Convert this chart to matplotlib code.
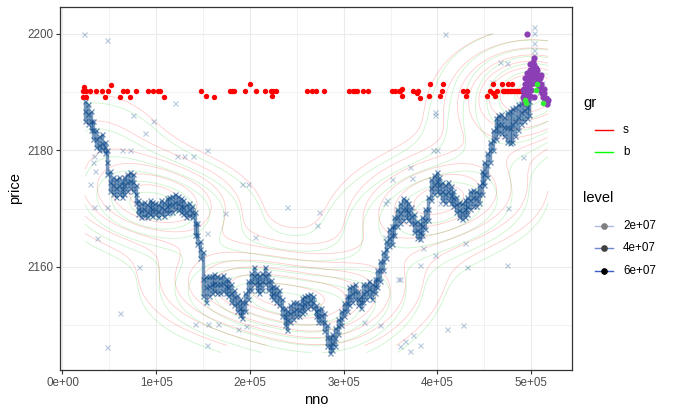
import matplotlib
matplotlib.use('Agg')  # no display
import matplotlib.pyplot as plt
import numpy as np
from matplotlib.lines import Line2D
from matplotlib.ticker import FixedLocator, MaxNLocator

plt.rcParams['font.family'] = ['Liberation Sans', 'DejaVu Sans']

# ---- data (nno in thousands) ----
# main trade path: column position and low / middle / high price of the band
path_k = [24, 27, 30, 33, 36, 39, 42, 45, 48, 51, 54, 57, 60, 63, 66, 69, 72, 75, 78, 81,
          84, 87, 90, 93, 96, 99, 102, 105, 108, 111, 114, 117, 120, 123, 126, 129, 132, 135, 138, 141,
          144, 147, 150, 153, 156, 159, 162, 165, 168, 171, 174, 177, 180, 183, 186, 189, 192, 195, 198, 201,
          204, 207, 210, 213, 216, 219, 222, 225, 228, 231, 234, 237, 240, 243, 246, 249, 252, 255, 258, 261,
          264, 267, 270, 273, 276, 279, 282, 285, 288, 291, 294, 297, 300, 303, 306, 309, 312, 315, 318, 321,
          324, 327, 330, 333, 336, 339, 342, 345, 348, 351, 354, 357, 360, 363, 366, 369, 372, 375, 378, 381,
          384, 387, 390, 393, 396, 399, 402, 405, 408, 411, 414, 417, 420, 423, 426, 429, 432, 435, 438, 441,
          444, 447, 450, 453, 456, 459, 462, 465, 468, 471, 474, 477, 480, 483, 486, 489, 492, 495, 498]
path_lo = [2185.0, 2184.5, 2183.5, 2182.0, 2180.5, 2180.0, 2180.2, 2179.5, 2176.0, 2173.0,
           2172.5, 2172.0, 2172.5, 2172.0, 2172.5, 2173.0, 2173.5, 2173.0, 2171.0, 2169.0,
           2168.5, 2168.8, 2168.5, 2169.0, 2168.8, 2169.0, 2168.5, 2169.0, 2168.8, 2169.2,
           2169.5, 2169.5, 2170.0, 2169.8, 2169.5, 2169.0, 2168.5, 2168.8, 2168.5, 2165.5,
           2164.0, 2161.5, 2155.0, 2154.0, 2155.0, 2155.5, 2155.8, 2155.5, 2155.5, 2155.8,
           2155.5, 2155.0, 2154.0, 2153.5, 2152.5, 2151.8, 2151.2, 2152.5, 2154.5, 2156.0,
           2157.0, 2156.0, 2155.5, 2156.0, 2157.0, 2156.0, 2155.0, 2154.5, 2154.0, 2153.5,
           2151.5, 2150.0, 2149.2, 2150.5, 2151.0, 2151.5, 2151.5, 2152.0, 2152.5, 2153.0,
           2153.2, 2153.0, 2151.5, 2150.5, 2150.5, 2149.0, 2146.5, 2145.3, 2145.8, 2146.5,
           2148.5, 2150.0, 2151.5, 2152.5, 2153.5, 2154.0, 2154.5, 2153.5, 2153.0, 2154.0,
           2154.5, 2155.0, 2154.5, 2155.5, 2156.5, 2157.5, 2159.5, 2161.5, 2163.5, 2164.0,
           2165.5, 2167.0, 2167.5, 2168.0, 2168.5, 2168.0, 2167.5, 2166.0, 2165.0, 2164.8,
           2165.5, 2166.5, 2168.0, 2171.5, 2172.5, 2173.0, 2172.5, 2171.5, 2171.0, 2171.5,
           2171.0, 2170.5, 2169.5, 2168.5, 2168.2, 2168.5, 2169.0, 2170.0, 2170.5, 2170.5,
           2171.0, 2172.5, 2174.0, 2175.5, 2178.0, 2180.0, 2182.0, 2183.0, 2183.0, 2182.5,
           2181.5, 2181.3, 2181.5, 2182.5, 2183.5, 2184.5, 2185.0, 2185.5, 2186.0]
path_mid = [2186.8, 2186.3, 2185.0, 2183.5, 2182.0, 2181.0, 2181.2, 2180.5, 2178.0, 2174.5,
            2174.0, 2173.5, 2174.0, 2173.3, 2174.0, 2174.5, 2174.8, 2174.5, 2172.5, 2170.0,
            2169.8, 2170.0, 2169.5, 2170.2, 2170.0, 2170.0, 2169.6, 2170.3, 2170.0, 2170.5,
            2170.8, 2170.8, 2171.2, 2171.0, 2170.5, 2170.2, 2169.5, 2170.0, 2169.5, 2167.5,
            2165.5, 2163.0, 2158.0, 2156.5, 2156.8, 2157.0, 2157.2, 2157.0, 2157.0, 2157.2,
            2156.8, 2156.5, 2155.5, 2154.8, 2153.8, 2153.0, 2152.5, 2154.0, 2156.0, 2157.5,
            2158.5, 2157.5, 2157.0, 2157.5, 2158.5, 2157.5, 2156.5, 2155.5, 2155.3, 2154.8,
            2153.0, 2151.5, 2150.8, 2152.0, 2152.5, 2152.8, 2152.6, 2153.3, 2153.8, 2154.0,
            2154.3, 2154.0, 2152.5, 2151.5, 2151.8, 2150.5, 2148.0, 2146.5, 2147.0, 2147.8,
            2149.8, 2151.2, 2152.6, 2153.8, 2155.0, 2155.5, 2155.8, 2154.5, 2154.0, 2155.5,
            2155.8, 2156.2, 2155.8, 2156.8, 2158.0, 2159.5, 2161.0, 2163.0, 2165.0, 2165.5,
            2167.0, 2168.5, 2169.3, 2170.0, 2170.0, 2169.5, 2168.8, 2167.5, 2166.3, 2166.0,
            2167.0, 2168.0, 2170.0, 2173.5, 2174.2, 2174.8, 2174.0, 2173.0, 2172.5, 2173.0,
            2172.3, 2171.8, 2170.8, 2169.8, 2169.5, 2170.0, 2170.5, 2171.5, 2172.0, 2171.8,
            2172.5, 2174.5, 2176.0, 2177.5, 2180.0, 2181.8, 2183.8, 2184.5, 2184.5, 2184.0,
            2184.0, 2183.8, 2184.5, 2185.0, 2185.8, 2186.5, 2187.0, 2187.5, 2188.5]
path_hi = [2188.5, 2188.0, 2186.8, 2185.0, 2183.5, 2182.5, 2182.8, 2181.5, 2180.0, 2176.5,
           2175.5, 2175.0, 2175.5, 2174.8, 2175.5, 2176.0, 2176.2, 2176.0, 2174.0, 2171.5,
           2171.0, 2171.2, 2170.8, 2171.5, 2171.2, 2171.0, 2170.8, 2171.5, 2171.2, 2171.8,
           2172.0, 2172.2, 2172.5, 2172.2, 2171.8, 2171.5, 2170.8, 2171.0, 2170.5, 2169.5,
           2167.5, 2164.5, 2162.5, 2158.5, 2158.5, 2158.5, 2158.8, 2158.5, 2158.2, 2158.6,
           2158.0, 2157.8, 2157.0, 2156.0, 2155.2, 2154.5, 2154.0, 2155.5, 2157.5, 2159.0,
           2160.0, 2159.0, 2158.5, 2159.0, 2160.0, 2159.0, 2157.8, 2156.8, 2156.5, 2156.0,
           2154.5, 2153.0, 2152.5, 2153.5, 2154.0, 2154.0, 2153.8, 2154.6, 2155.0, 2155.2,
           2155.4, 2155.0, 2153.5, 2152.8, 2153.0, 2152.0, 2150.0, 2148.0, 2148.5, 2149.5,
           2151.0, 2152.5, 2153.8, 2155.0, 2156.5, 2156.8, 2157.0, 2155.8, 2155.0, 2157.0,
           2157.0, 2157.5, 2157.0, 2158.0, 2159.5, 2161.0, 2162.5, 2164.5, 2166.5, 2167.0,
           2168.5, 2170.0, 2171.0, 2171.8, 2171.5, 2171.0, 2170.2, 2169.0, 2167.8, 2167.5,
           2168.5, 2170.0, 2172.0, 2175.0, 2175.8, 2176.2, 2175.5, 2174.5, 2174.0, 2174.5,
           2173.8, 2173.0, 2172.0, 2171.2, 2171.0, 2171.5, 2172.0, 2173.0, 2173.2, 2173.0,
           2174.0, 2176.5, 2178.0, 2179.5, 2181.5, 2183.5, 2185.5, 2186.0, 2186.2, 2185.8,
           2186.5, 2186.8, 2187.2, 2187.5, 2188.0, 2188.2, 2188.5, 2189.5, 2191.0]

# isolated trades away from the band
out_k = [23.5, 47, 48, 61, 187, 196, 192, 198, 239, 274, 272, 205, 173, 154, 154, 360, 374, 360,
         365, 371, 381, 322, 339, 344, 397, 381, 397, 397, 395, 399, 371, 373, 429, 491, 346,
         467, 474, 408, 458, 120, 75, 97, 88, 122, 130, 139, 154, 64, 72, 29, 34, 48, 37, 82,
         410, 427, 141, 155, 166, 351, 432, 474, 358, 475, 344, 385, 403, 33, 35, 34,
         503, 503, 503, 503.5, 502.5, 508, 512, 516]
out_price = [2200.0, 2199.0, 2146.3, 2152.0, 2149.3, 2149.8, 2174.3, 2174.3, 2170.2, 2169.4,
             2167.2, 2165.2, 2169.2, 2165.8, 2146.6, 2158.0, 2148.3, 2146.5, 2147.2, 2145.6,
             2146.6, 2150.6, 2150.0, 2171.0, 2162.0, 2160.3, 2186.6, 2186.0, 2180.1, 2180.1,
             2177.2, 2175.3, 2164.1, 2178.8, 2171.5, 2195.2, 2195.0, 2200.0, 2191.8, 2188.2,
             2186.0, 2185.0, 2183.0, 2179.0, 2179.0, 2179.0, 2180.0, 2180.0, 2180.0, 2174.3,
             2170.2, 2170.2, 2165.0, 2160.0, 2149.4, 2150.0, 2150.2, 2150.2, 2150.2, 2175.0,
             2160.0, 2160.4, 2158.0, 2170.1, 2165.2, 2163.3, 2171.0, 2178.0, 2176.5, 2179.0,
             2201.2, 2200.1, 2198.5, 2197.2, 2196.3, 2190.0, 2191.5, 2189.0]

# red quotes (gr = s)
red_k = [21.4, 25.6, 29.9, 36.3, 42.7, 48.1, 64.1, 68.4, 78.0, 90.8, 96.1, 101.5, 103.6,
         22.4, 24.6, 44.9, 60.9, 71.6, 107.9, 23.5, 52.3,
         148.1, 153.5, 161.3, 178.4, 180.5, 182.7, 195.1, 200.4, 206.1, 215.7, 222.9, 224.6,
         228.2, 224.0, 260.6, 266.7, 270.3, 279.5, 305.4, 309.7, 311.9, 313.7, 320.4, 325.4,
         351.0, 354.6, 358.8, 359.9, 362.1, 362.1, 373.8, 378.1, 379.1, 381.3, 390.9, 392.0,
         402.6, 404.8, 405.8, 427.2, 430.4, 431.5, 452.8, 456.0, 459.2, 459.2, 461.4, 463.5,
         468.9, 469.9, 475.3, 479.5, 471.0, 472.5, 474.0, 475.5, 477.0, 478.5, 480.0, 481.5,
         483.0, 484.5, 486.0, 487.5, 489.0, 490.5, 492.0, 493.5]
red_price = [2190.1, 2190.1, 2190.1, 2190.1, 2190.1, 2190.1, 2190.1, 2190.1, 2190.1, 2190.1,
             2190.1, 2190.1, 2190.1, 2189.1, 2189.1, 2189.2, 2189.2, 2189.2, 2189.2, 2190.8,
             2191.2,
             2190.1, 2189.3, 2189.1, 2190.1, 2190.1, 2190.1, 2190.1, 2191.3, 2190.1, 2190.1,
             2190.1, 2190.1, 2190.1, 2189.3, 2190.1, 2190.1, 2190.1, 2190.1, 2190.1, 2190.1,
             2190.1, 2190.1, 2190.1, 2190.1, 2190.1, 2190.1, 2190.1, 2190.2, 2190.5, 2189.3,
             2190.1, 2189.9, 2190.2, 2189.0, 2189.3, 2191.3, 2189.3, 2190.2, 2191.3, 2190.1,
             2189.3, 2190.1, 2189.3, 2190.1, 2191.3, 2189.9, 2189.3, 2190.1, 2191.3, 2190.1,
             2191.3, 2191.3, 2190.1, 2190.1, 2190.1, 2190.1, 2190.1, 2190.1, 2190.1, 2190.1,
             2190.1, 2190.1, 2190.1, 2190.1, 2190.1, 2190.1, 2190.1, 2190.1]

# purple quotes near the end of the session
purple_k = [492.0, 492.0, 492.5, 493.0, 493.5, 494.0, 494.5, 495.0, 495.5, 496.0, 496.5, 497.0,
            497.5, 498.0, 498.5, 499.0, 499.5, 500.0, 500.5, 501.0, 501.5, 502.0, 502.5, 503.0,
            503.5, 504.0, 504.5, 502.5, 506.0, 507.0, 507.5, 508.0, 509.0, 509.5, 510.5, 511.0,
            512.0, 513.0, 514.0, 515.0, 516.0, 517.0, 510.0, 495.6, 491.0, 491.5, 493.0, 496.0,
            499.0, 505.0, 505.5, 513.5, 516.5, 518.0]
purple_price = [2188.6, 2189.6, 2190.6, 2191.4, 2188.2, 2189.2, 2190.2, 2191.2, 2192.2, 2188.8,
                2189.8, 2190.8, 2191.8, 2192.8, 2193.8, 2189.4, 2190.4, 2191.4, 2192.4, 2193.4,
                2194.4, 2195.2, 2195.8, 2194.6, 2193.6, 2192.6, 2191.6, 2189.2, 2193.8, 2193.0,
                2192.0, 2191.0, 2192.4, 2190.4, 2191.4, 2189.8, 2190.6, 2189.2, 2189.8, 2188.6,
                2189.0, 2188.3, 2193.0, 2200.0, 2189.2, 2190.4, 2192.4, 2193.2, 2194.8, 2193.0,
                2194.2, 2190.6, 2188.0, 2188.6]

green_k = [494.2, 506.0, 505.5, 512.5, 493.5]
green_price = [2188.1, 2191.4, 2190.4, 2188.2, 2188.6]

level_labels = ['2e+07', '4e+07', '6e+07']

# ---- figure ----
W, H = 673, 415
fig = plt.figure(figsize=(W / 100, H / 100), dpi=100)
ax = fig.add_axes([60 / W, (H - 370) / H, (572 - 60) / W, (370 - 7) / H])

pk = np.array(path_k) * 1000.0
lo, mid, hi = np.array(path_lo), np.array(path_mid), np.array(path_hi)


# 2d density contours per group (MASS::kde2d style)
def kde_contour(x, y, color):
    def bw(v):
        q75, q25 = np.percentile(v, [75, 25])
        return 1.06 * min(np.std(v, ddof=1), (q75 - q25) / 1.34) * len(v) ** (-0.2)
    hx, hy = bw(x), bw(y)
    gx = np.linspace(x.min(), x.max(), 100)
    gy = np.linspace(y.min(), y.max(), 100)
    ex = np.exp(-0.5 * ((gx[:, None] - x[None, :]) / hx) ** 2)
    ey = np.exp(-0.5 * ((gy[:, None] - y[None, :]) / hy) ** 2)
    z = ey @ ex.T / (2 * np.pi * hx * hy * len(x))
    levels = MaxNLocator(nbins=10).tick_values(z.min(), z.max())
    levels = levels[(levels > z.min()) & (levels < z.max())]
    ax.contour(gx, gy, z, levels=levels, colors=color, linewidths=0.6, alpha=0.2, zorder=1)


s_x = np.concatenate([pk, pk, np.array(purple_k) * 1000])
s_y = np.concatenate([hi, mid, np.array(purple_price)])
b_x = np.concatenate([pk, pk, np.array(purple_k) * 1000])
b_y = np.concatenate([lo, mid, np.array(purple_price)])
kde_contour(s_x, s_y, '#FF0000')
kde_contour(b_x, b_y, '#00CC00')

blue = '#0A4788'
ax.vlines(pk, lo, hi, colors=blue, linewidth=2.4, alpha=0.55, zorder=2)
for arr in (lo, mid, hi):
    ax.plot(pk, arr, linestyle='none', marker='x', markersize=3.6, markeredgewidth=0.9,
            color=blue, alpha=0.6, zorder=2)
ax.plot(np.array(out_k) * 1000, out_price, linestyle='none', marker='x', markersize=3.6,
        markeredgewidth=0.8, color=blue, alpha=0.3, zorder=2)

ax.scatter(np.array(red_k) * 1000, red_price, s=15, color='#FF0000', linewidths=0, zorder=3)
ax.scatter(np.array(purple_k) * 1000, purple_price, s=20, color='#8C3FB5', linewidths=0, zorder=4)
ax.scatter(np.array(green_k) * 1000, green_price, s=16, color='#33EE33', linewidths=0, zorder=5)

# axes, theme_bw look
ax.set_xlim(-2600, 543500)
ax.set_ylim(2142.3, 2204.6)
ax.xaxis.set_major_locator(FixedLocator([0, 1e5, 2e5, 3e5, 4e5, 5e5]))
ax.xaxis.set_minor_locator(FixedLocator([5e4, 1.5e5, 2.5e5, 3.5e5, 4.5e5]))
ax.set_xticklabels(['0e+00', '1e+05', '2e+05', '3e+05', '4e+05', '5e+05'])
ax.yaxis.set_major_locator(FixedLocator([2160, 2180, 2200]))
ax.yaxis.set_minor_locator(FixedLocator([2150, 2170, 2190]))
ax.grid(which='major', color='#EBEBEB', linewidth=0.8, zorder=0)
ax.grid(which='minor', color='#EBEBEB', linewidth=0.45, zorder=0)
ax.set_axisbelow(True)
for sp in ax.spines.values():
    sp.set_color('#333333')
    sp.set_linewidth(0.9)
ax.tick_params(which='major', length=2.7, width=0.8, color='#333333', labelsize=8.4,
               labelcolor='#4D4D4D', pad=2)
ax.tick_params(which='minor', length=0)
ax.set_xlabel('nno', fontsize=10.5, labelpad=3)
ax.set_ylabel('price', fontsize=10.5, labelpad=4)


# legends drawn in figure pixels
def fx(px):
    return px / W


def fy(py):
    return 1 - py / H


fig.text(fx(583), fy(103), 'gr', fontsize=10.5, va='center', ha='left')
for yy, lab, col in [(130, 's', '#FF0000'), (152, 'b', '#00FF00')]:
    fig.add_artist(Line2D([fx(595), fx(613)], [fy(yy), fy(yy)], color=col, linewidth=1.0,
                          transform=fig.transFigure))
    fig.text(fx(623), fy(yy), lab, fontsize=8.4, va='center', ha='left')

fig.text(fx(583), fy(198), 'level', fontsize=10.5, va='center', ha='left')
level_line = ['#AEBBE0', '#6E88D2', '#3D5DC9']
level_dot = ['#7F7F7F', '#404040', '#000000']
for yy, lab, lc, dc in zip([226, 248, 271], level_labels, level_line, level_dot):
    fig.add_artist(Line2D([fx(595), fx(613)], [fy(yy), fy(yy)], color=lc, linewidth=1.0,
                          transform=fig.transFigure))
    fig.add_artist(Line2D([fx(604)], [fy(yy)], color=dc, marker='o', markersize=3.8,
                          linestyle='none', transform=fig.transFigure))
    fig.text(fx(623), fy(yy), lab, fontsize=8.4, va='center', ha='left')

fig.savefig('out.png', dpi=100)
plt.close(fig)
